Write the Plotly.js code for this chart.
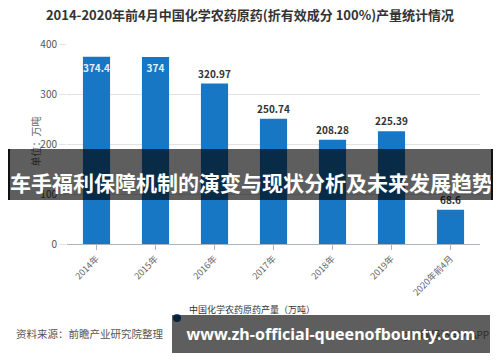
<!DOCTYPE html>
<html><head><meta charset="utf-8">
<script src="https://cdn.plot.ly/plotly-3.0.1.min.js"></script>
<style>
html,body{margin:0;padding:0;background:#fff;}
#wrap{position:relative;width:500px;height:362px;overflow:hidden;}
#chart{width:500px;height:362px;}
.band{position:absolute;background:rgba(0,0,0,0.63);color:#fff;font-weight:bold;white-space:nowrap;text-align:center;overflow:hidden;}
#b1{left:8px;top:149px;width:481px;height:28px;padding-top:23px;line-height:21px;font-size:21px;font-family:"Noto Sans CJK SC",sans-serif;border-left:2px solid #111;border-right:2px solid #111;}
#b2{left:172px;top:315px;width:318px;height:38px;line-height:38px;font-size:16px;font-family:"Noto Sans",sans-serif;}
</style></head><body>
<div id="wrap"><div id="chart"></div>
<div class="band" id="b1">车手福利保障机制的演变与现状分析及未来发展趋势</div>
<div class="band" id="b2">www.zh-official-queenofbounty.com</div>
</div>
<script>
const categories = ['2014年','2015年','2016年','2017年','2018年','2019年','2020年前4月'];
const production = [374.4, 374, 320.97, 250.74, 208.28, 225.39, 68.6];
const labelText = ['374.4', '374', '320.97', '250.74', '208.28', '225.39', '68.6'];
const yTicks = [0, 100, 200, 300, 400];
const titleText = '2014-2020年前4月中国化学农药原药(折有效成分 100%)产量统计情况';
const legendText = '中国化学农药原药产量（万吨）';
const sourceText = '资料来源：前瞻产业研究院整理';
const yTitle = '单位：万吨';
const brandText = '@前瞻经济学人APP';

const L = 67, T = 44, W = 413, H = 200;
const px = X => (X - L) / W;
const py = Y => (T + H - Y) / H;
const FONT = '"Noto Sans CJK SC", "Noto Sans", sans-serif';

const trace = {
  type: 'bar', x: categories, y: production,
  marker: {color: '#1777c4'},
  text: labelText,
  textposition: production.map(v => v > 360 ? 'inside' : 'outside'),
  insidetextanchor: 'end',
  constraintext: 'none',
  cliponaxis: false,
  textangle: 0,
  insidetextfont: {family: FONT, size: 10, color: '#e8eef5', weight: 'bold'},
  outsidetextfont: {family: FONT, size: 10, color: '#333', weight: 'bold'},
  hoverinfo: 'none'
};

const layout = {
  width: 500, height: 362,
  margin: {l: L, r: 500 - L - W, t: T, b: 362 - T - H},
  paper_bgcolor: '#fff', plot_bgcolor: '#fff',
  showlegend: false,
  bargap: 0.54,
  font: {family: FONT},
  title: {text: titleText, x: 0.5, xanchor: 'center', y: 1 - 15 / 362, yanchor: 'middle',
          font: {family: FONT, size: 13, color: '#333', weight: 'bold'}},
  xaxis: {type: 'category', showline: true, linecolor: '#aab4be', linewidth: 1,
          ticks: 'outside', ticklen: 5, tickcolor: '#aab4be', tickangle: -45,
          tickfont: {family: FONT, size: 9, color: '#666'}, showgrid: false, fixedrange: true},
  yaxis: {range: [0, 400], tickvals: yTicks, showgrid: true, gridcolor: '#e3e3e3',
          ticks: 'outside', ticklen: 7, tickcolor: '#e3e3e3', zeroline: false, showline: false,
          tickfont: {family: FONT, size: 10, color: '#555'}, fixedrange: true},
  shapes: [
    {type: 'circle', xref: 'paper', yref: 'paper', x0: px(173), x1: px(181), y0: py(322), y1: py(314),
     fillcolor: '#1a5ea8', line: {width: 0}}
  ],
  annotations: [
    {text: yTitle, xref: 'paper', yref: 'paper', x: px(25), y: py(142), textangle: -90,
     showarrow: false, font: {family: FONT, size: 10, color: '#666'}},
    {text: legendText, xref: 'paper', yref: 'paper', x: px(187), y: py(318), xanchor: 'left',
     showarrow: false, font: {family: FONT, size: 9, color: '#333'}},
    {text: sourceText, xref: 'paper', yref: 'paper', x: px(14), y: py(343), xanchor: 'left',
     showarrow: false, font: {family: FONT, size: 10.5, color: '#555'}},
    {text: brandText, xref: 'paper', yref: 'paper', x: px(491), y: py(344), xanchor: 'right',
     showarrow: false, font: {family: FONT, size: 10, color: '#777'}}
  ]
};

Plotly.newPlot('chart', [trace], layout, {displayModeBar: false, staticPlot: true});
</script>
</body></html>
